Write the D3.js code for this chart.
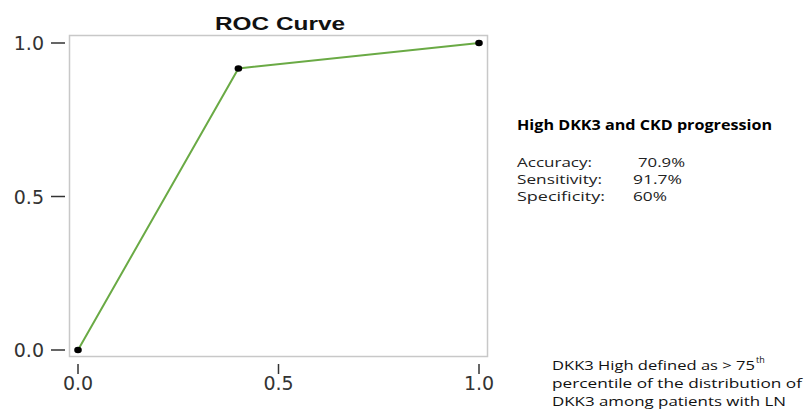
<!DOCTYPE html>
<html><head><meta charset="utf-8">
<script src="https://cdn.jsdelivr.net/npm/d3@7/dist/d3.min.js"></script>
<style>body{margin:0;background:#fff}</style>
</head><body>
<svg id="c" width="806" height="410"></svg>
<script>
const fpr = [0, 0.4, 1.0];
const tpr = [0, 0.917, 1.0];
const xTicks = [0, 0.5, 1.0];
const yTicks = [0, 0.5, 1.0];
const statLabels = ["Accuracy:", "Sensitivity:", "Specificity:"];
const statValues = ["70.9%", "91.7%", "60%"];
const noteLines = ["DKK3 High defined as > 75", "percentile of  the distribution of", "DKK3 among patients with LN"];

const svg = d3.select("#c");
const x = d3.scaleLinear().domain([0, 1]).range([78, 479]);
const y = d3.scaleLinear().domain([0, 1]).range([350, 43]);

svg.append("rect").attr("x", 69.5).attr("y", 35.5).attr("width", 418).attr("height", 321)
  .attr("fill", "none").attr("stroke", "#c8c8c8").attr("stroke-width", 1.5);

svg.append("text").attr("x", 215).attr("y", 30)
  .attr("font-family", "Liberation Sans, Arial").attr("font-weight", "bold").attr("font-size", 18.5)
  .attr("textLength", 130).attr("lengthAdjust", "spacingAndGlyphs")
  .attr("fill", "#111").text("ROC Curve");

// y axis
const yg = svg.append("g");
yTicks.forEach(t => {
  yg.append("line").attr("x1", 51).attr("x2", 65).attr("y1", y(t)).attr("y2", y(t)).attr("stroke", "#333").attr("stroke-width", 1.5);
  yg.append("text").attr("x", 44).attr("y", y(t) + 7).attr("text-anchor", "end")
    .attr("font-family", "DejaVu Sans, sans-serif").attr("font-size", 19).attr("fill", "#333").text(d3.format(".1f")(t));
});
// x axis
const xg = svg.append("g");
xTicks.forEach(t => {
  xg.append("line").attr("x1", x(t)).attr("x2", x(t)).attr("y1", 364).attr("y2", 374).attr("stroke", "#333").attr("stroke-width", 1.5);
  xg.append("text").attr("x", x(t)).attr("y", 390).attr("text-anchor", "middle")
    .attr("font-family", "DejaVu Sans, sans-serif").attr("font-size", 19).attr("fill", "#333").text(d3.format(".1f")(t));
});

const pts = fpr.map((f, i) => [f, tpr[i]]);
svg.append("path").datum(pts)
  .attr("d", d3.line().x(d => x(d[0])).y(d => y(d[1])))
  .attr("fill", "none").attr("stroke", "#6aaa45").attr("stroke-width", 2);
svg.selectAll("ellipse.pt").data(pts).enter().append("ellipse")
  .attr("cx", d => x(d[0])).attr("cy", d => y(d[1])).attr("rx", 3.8).attr("ry", 3.2).attr("fill", "#000");

const ff = "Open Sans, sans-serif";
function fit(sel, len) { return sel.attr("textLength", len).attr("lengthAdjust", "spacingAndGlyphs"); }
fit(svg.append("text").attr("x", 517).attr("y", 130).attr("font-family", ff).attr("font-weight", "bold")
  .attr("font-size", 13.5).attr("fill", "#000").text("High DKK3 and CKD progression"), 255);
const labLen = [75, 85, 88], valLen = [47, 49, 34], valX = [638, 633, 633];
statLabels.forEach((l, i) => {
  fit(svg.append("text").attr("x", 517).attr("y", 167 + i * 17).attr("font-family", ff).attr("font-size", 12.5).attr("fill", "#222").text(l), labLen[i]);
  fit(svg.append("text").attr("x", valX[i]).attr("y", 167 + i * 17).attr("font-family", ff).attr("font-size", 12.5).attr("fill", "#222").text(statValues[i]), valLen[i]);
});

const noteLen = [203, 250, 234];
noteLines.forEach((l, i) => {
  fit(svg.append("text").attr("x", 552).attr("y", 370 + i * 18).attr("font-family", ff).attr("font-size", 13.2).attr("fill", "#111").text(l), noteLen[i]);
});
svg.append("text").attr("x", 756).attr("y", 363).attr("font-family", ff).attr("font-size", 9).attr("fill", "#111").text("th");
</script>
</body></html>
